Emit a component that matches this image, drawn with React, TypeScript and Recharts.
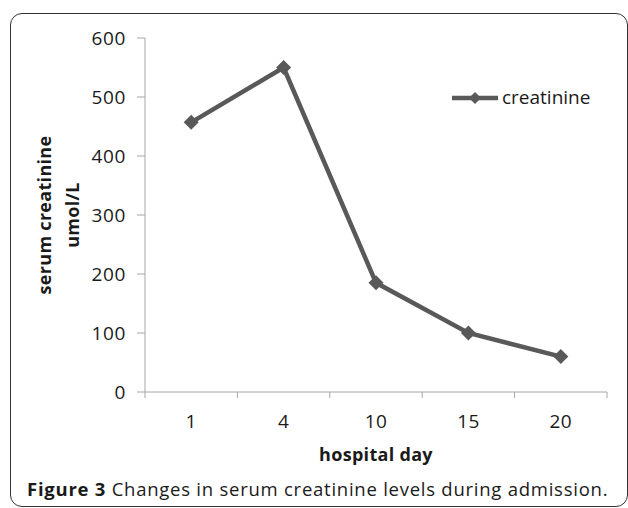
import { LineChart, Line, XAxis, YAxis, Legend } from 'recharts';

// données
const days = ['1', '4', '10', '15', '20'];
const creatinine = [457, 550, 185, 100, 60];
const yTicks = [0, 100, 200, 300, 400, 500, 600];

// chaque jour occupe une case ; graduations aux bords des cases, libellés au centre
const data = days.map((d, i) => ({ day: d, pos: i + 0.5, creatinine: creatinine[i] }));
const xTicks = [0, ...days.flatMap((_, i) => [i + 0.5, i + 1])];

const FONT = '"Open Sans", "DejaVu Sans", sans-serif';
const LINE_COLOR = '#595959';
const AXIS_COLOR = '#a6a6a6';
const TEXT_COLOR = '#1a1a1a';
const LEGEND_H = 24; // la légende réserve sa hauteur sous le graphique

const Diamond = (props: any) => {
  const { cx, cy, size = 7.5 } = props;
  if (cx == null || cy == null) return null;
  return (
    <polygon
      points={`${cx},${cy - size} ${cx + size},${cy} ${cx},${cy + size} ${cx - size},${cy}`}
      fill={LINE_COLOR}
    />
  );
};

const XTick = (props: any) => {
  const { x, y, payload } = props;
  const v = payload.value;
  if (Number.isInteger(v)) {
    return <line x1={x} x2={x} y1={y} y2={y + 6} stroke={AXIS_COLOR} strokeWidth={1} />;
  }
  const label = days[Math.floor(v)];
  return (
    <text x={x} y={y + 23} dy="0.71em" textAnchor="middle" fontFamily={FONT} fontSize={19} letterSpacing={0.4} fill={TEXT_COLOR}>
      {label}
    </text>
  );
};

const renderLegend = () => (
  <svg width={170} height={LEGEND_H} style={{ display: 'block', overflow: 'visible' }}>
    <line x1={2} y1={12} x2={48} y2={12} stroke={LINE_COLOR} strokeWidth={4.5} />
    <Diamond cx={25} cy={12} size={6} />
    <text x={52} y={18} fontFamily={FONT} fontSize={19} fill={TEXT_COLOR}>creatinine</text>
  </svg>
);

export default function App() {
  return (
    <div style={{ position: 'absolute', left: 0, top: 0, width: 628, height: 508, overflow: 'hidden', background: '#fff' }}>
      <div
        style={{
          position: 'absolute',
          left: 10,
          top: 13,
          width: 616,
          height: 492,
          border: '1.5px solid #333',
          borderRadius: 12,
        }}
      />
      <div style={{ position: 'absolute', left: 0, top: 0 }}>
        <LineChart width={628} height={508} data={data} margin={{ top: 38, right: 21, left: 85, bottom: 86 - LEGEND_H }}>
          <XAxis
            dataKey="pos"
            type="number"
            domain={[0, 5]}
            ticks={xTicks}
            interval={0}
            height={30}
            stroke={AXIS_COLOR}
            tickLine={false}
            tickSize={0}
            tickMargin={0}
            tick={<XTick />}
            label={{
              content: (p: any) => {
                const vb = p.viewBox || {};
                return (
                  <text x={vb.x + vb.width / 2} y={vb.y + 69} textAnchor="middle" fontFamily={FONT} fontSize={18} letterSpacing={0.3} fontWeight="bold" fill={TEXT_COLOR}>
                    hospital day
                  </text>
                );
              },
            }}
          />
          <YAxis
            domain={[0, 600]}
            ticks={yTicks}
            width={60}
            stroke={AXIS_COLOR}
            tickSize={8}
            tickMargin={11}
            tick={{ fontFamily: FONT, fontSize: 19, letterSpacing: 0.6, fill: TEXT_COLOR }}
            label={{
              content: (p: any) => {
                const vb = p.viewBox || {};
                const cy = vb.y + vb.height / 2;
                return (
                  <g fontFamily={FONT} fontSize={18} fontWeight="bold" fill={TEXT_COLOR} textAnchor="middle" letterSpacing={0.3}>
                    <text x={51} y={cy} transform={`rotate(-90, 51, ${cy})`}>serum creatinine</text>
                    <text x={79} y={cy} transform={`rotate(-90, 79, ${cy})`}>umol/L</text>
                  </g>
                );
              },
            }}
          />
          <Legend content={renderLegend} wrapperStyle={{ top: 86, left: 450, width: 170 }} />
          <Line
            dataKey="creatinine"
            name="creatinine"
            stroke={LINE_COLOR}
            strokeWidth={4.5}
            dot={<Diamond />}
            activeDot={false}
            isAnimationActive={false}
          />
        </LineChart>
      </div>
      <div
        style={{
          position: 'absolute',
          left: 27,
          top: 476,
          fontFamily: FONT,
          fontSize: 18.5,
          letterSpacing: 0.75,
          color: TEXT_COLOR,
          whiteSpace: 'nowrap',
        }}
      >
        <b>Figure 3</b> Changes in serum creatinine levels during admission.
      </div>
    </div>
  );
}
